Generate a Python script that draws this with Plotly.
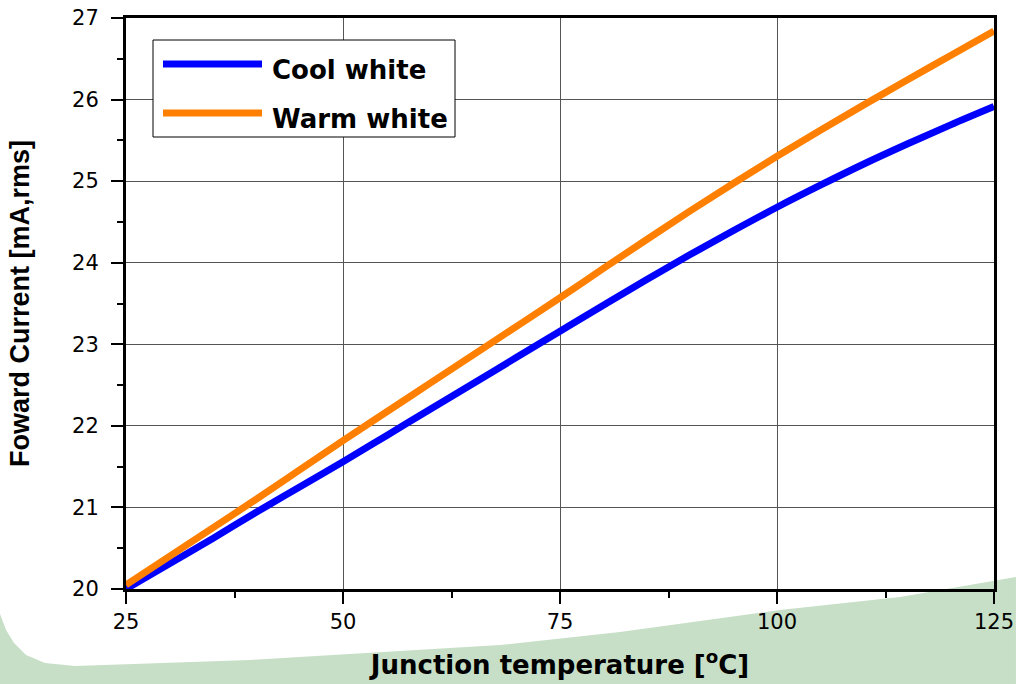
import plotly.graph_objects as go

# ---- data ----
temperature = [25, 30, 35, 40, 45, 50, 55, 60, 65, 70, 75, 80, 85, 90, 95, 100, 105, 110, 115, 120, 125]
cool_white = [20.00, 20.31, 20.62, 20.94, 21.25, 21.56, 21.88, 22.20, 22.52, 22.84, 23.16,
              23.48, 23.795, 24.10, 24.395, 24.68, 24.95, 25.21, 25.455, 25.69, 25.915]
warm_white = [20.05, 20.40, 20.75, 21.10, 21.46, 21.82, 22.17, 22.52, 22.87, 23.22, 23.57,
              23.93, 24.285, 24.635, 24.975, 25.305, 25.625, 25.935, 26.24, 26.54, 26.84]
series_names = ["Cool white", "Warm white"]
series_colors = ["#0000ff", "#ff8000"]
x_ticks = [25, 50, 75, 100, 125]
y_ticks = [20, 21, 22, 23, 24, 25, 26, 27]

W, H = 1016, 684
ML, MR, MT, MB = 126, 22, 18, 95
PW, PH = W - ML - MR, H - MT - MB


def px(x):
    return (x - ML) / PW


def py(y):
    return (H - MB - y) / PH


fig = go.Figure()
for name, vals, col in zip(series_names, [cool_white, warm_white], series_colors):
    fig.add_trace(go.Scatter(x=temperature, y=vals, mode="lines", name=name,
                             line=dict(color=col, width=7, shape="spline", smoothing=1),
                             showlegend=False))

# green decorative background band
pts = [(0, 614), (6, 630), (14, 643), (26, 655), (45, 663), (75, 666), (250, 660), (500, 645),
       (620, 632), (780, 610), (900, 597), (1016, 577), (1016, 684), (0, 684)]
path = "M " + " L ".join(f"{px(a):.4f},{py(b):.4f}" for a, b in pts) + " Z"
shapes = [dict(type="path", xref="paper", yref="paper", path=path,
               fillcolor="#c6dfc6", line=dict(width=0), layer="below")]

# legend box (manual, to match the long line samples)
shapes.append(dict(type="rect", xref="paper", yref="paper",
                   x0=px(153), x1=px(455), y0=py(137), y1=py(40),
                   line=dict(color="black", width=1), fillcolor="white", layer="above"))
annotations = []
for i, (name, col) in enumerate(zip(series_names, series_colors)):
    ly = [64, 113][i]
    ty = [70, 119][i]
    shapes.append(dict(type="line", xref="paper", yref="paper",
                       x0=px(163), x1=px(262), y0=py(ly), y1=py(ly),
                       line=dict(color=col, width=7), layer="above"))
    annotations.append(dict(xref="paper", yref="paper", x=px(270), y=py(ty),
                            xanchor="left", yanchor="middle", showarrow=False,
                            text=f"<b>{name}</b>",
                            font=dict(family="DejaVu Sans", size=26, color="black")))

axis_common = dict(showline=True, linecolor="black", linewidth=3, mirror=True,
                   ticks="outside", ticklen=12, tickwidth=2, tickcolor="black",
                   showgrid=True, gridcolor="#555555", gridwidth=1, zeroline=False,
                   tickfont=dict(family="DejaVu Sans", size=21, color="black"))

fig.update_layout(
    width=W, height=H,
    margin=dict(l=ML, r=MR, t=MT, b=MB, autoexpand=False),
    paper_bgcolor="white", plot_bgcolor="white",
    shapes=shapes, annotations=annotations,
    xaxis=dict(range=[25, 125], tickvals=x_ticks, ticktext=[str(v) for v in x_ticks],
               minor=dict(dtick=12.5, tick0=25, ticks="outside", ticklen=6, tickwidth=2,
                          tickcolor="black", showgrid=False),
               ticklabelstandoff=0,
               title=dict(text="<b>Junction temperature [<sup>o</sup>C]</b>", standoff=23,
                          font=dict(family="DejaVu Sans", size=26, color="black")),
               **axis_common),
    yaxis=dict(range=[20, 27], tickvals=y_ticks, ticktext=[str(v) for v in y_ticks],
               minor=dict(dtick=0.5, tick0=20, ticks="outside", ticklen=6, tickwidth=2,
                          tickcolor="black", showgrid=False),
               ticklabelstandoff=8,
               title=dict(text="<b>Foward Current [mA,rms]</b>", standoff=35,
                          font=dict(family="Liberation Sans", size=27, color="black")),
               **axis_common),
)

fig.write_html("out.html", config={"displayModeBar": False},
               post_script="document.body.style.margin='0';document.body.style.overflow='hidden';")
